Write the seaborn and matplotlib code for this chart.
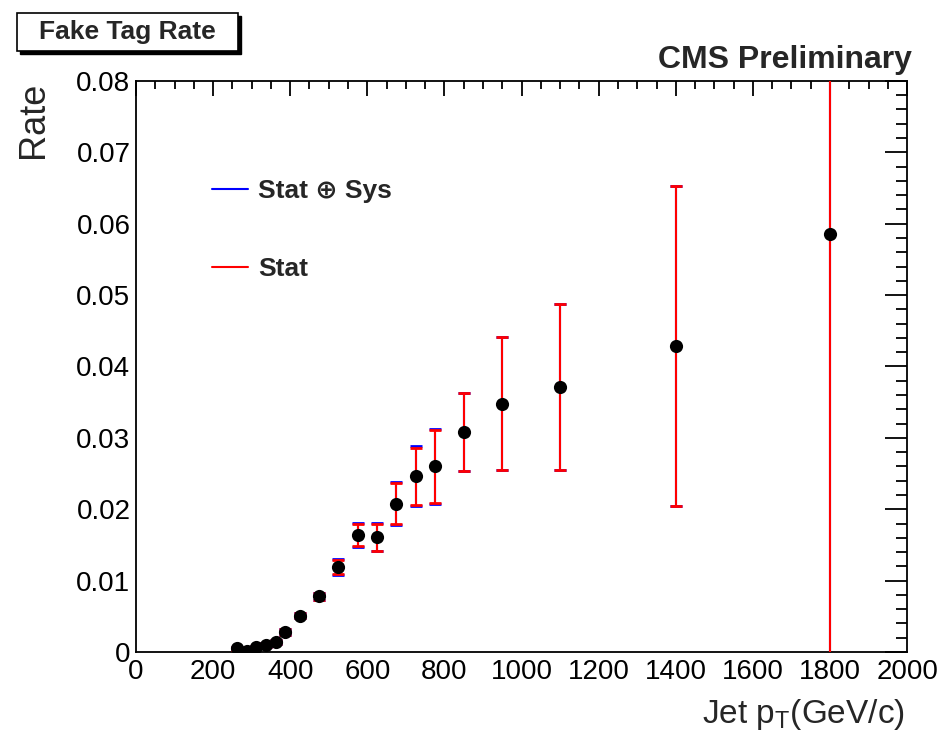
import matplotlib
matplotlib.use("Agg")
import matplotlib.pyplot as plt
import seaborn as sns
import numpy as np
import pandas as pd
from matplotlib.lines import Line2D
from matplotlib.ticker import MultipleLocator, FixedLocator, FixedFormatter
from matplotlib.patches import Rectangle

# ---- data ----
jet_pt = [262.5, 287.5, 312.5, 337.5, 362.5, 387.5, 425, 475, 525, 575, 625,
          675, 725, 775, 850, 950, 1100, 1400, 1800]
fake_rate = [0.0005, 0.0002, 0.0007, 0.0010, 0.0014, 0.0028, 0.0051, 0.0078,
             0.0119, 0.0164, 0.0161, 0.0208, 0.0246, 0.0260, 0.0308, 0.0348,
             0.0371, 0.0429, 0.0585]
stat_err = [0.0002, 0.0002, 0.0002, 0.0003, 0.0003, 0.0004, 0.0004, 0.0005,
            0.0010, 0.0016, 0.0019, 0.0029, 0.0040, 0.0051, 0.0055, 0.0093,
            0.0116, 0.0224, 0.0600]
total_err = [0.0002, 0.0002, 0.0002, 0.0003, 0.0003, 0.0004, 0.0004, 0.0005,
             0.0011, 0.0017, 0.0020, 0.0030, 0.0042, 0.0052, 0.0055, 0.0093,
             0.0116, 0.0224, 0.0600]
x_ticks = [0, 200, 400, 600, 800, 1000, 1200, 1400, 1600, 1800, 2000]
y_ticks = [0, 0.01, 0.02, 0.03, 0.04, 0.05, 0.06, 0.07, 0.08]
y_tick_labels = ["0", "0.01", "0.02", "0.03", "0.04", "0.05", "0.06", "0.07", "0.08"]
legend_labels = ["Stat \u2295 Sys", "Stat"]

df = pd.DataFrame({"pt": jet_pt, "rate": fake_rate,
                   "stat": stat_err, "total": total_err})

sns.set_theme(style="white")
FAM = ["Liberation Sans", "DejaVu Sans"]
plt.rcParams["font.family"] = FAM

fig = plt.figure(figsize=(9.41, 7.46), dpi=100)
ax = fig.add_axes([0.1445, 0.126, 0.8195, 0.7655])

# total (stat+sys) error bars first, stat on top
ax.errorbar(df["pt"], df["rate"], yerr=df["total"], fmt="none",
            ecolor="#0000ff", elinewidth=1.5, capsize=4, capthick=2, zorder=2)
ax.errorbar(df["pt"], df["rate"], yerr=df["stat"], fmt="none",
            ecolor="#ff0000", elinewidth=1.5, capsize=4, capthick=2, zorder=3)
sns.scatterplot(data=df, x="pt", y="rate", ax=ax, color="black", s=90,
                marker="o", edgecolor="black", linewidth=0, zorder=4,
                legend=False)

ax.set_xlim(0, 2000)
ax.set_ylim(0, 0.08)

ax.xaxis.set_major_locator(FixedLocator(x_ticks))
ax.xaxis.set_minor_locator(MultipleLocator(50))
ax.yaxis.set_major_locator(FixedLocator(y_ticks))
ax.yaxis.set_major_formatter(FixedFormatter(y_tick_labels))
ax.yaxis.set_minor_locator(MultipleLocator(0.002))

ax.tick_params(axis="both", which="both", direction="in", top=True, right=True,
               colors="black", width=1.3)
ax.tick_params(axis="x", which="major", length=11, labelsize=20, pad=5)
ax.tick_params(axis="x", which="minor", length=6)
ax.tick_params(axis="y", which="major", length=16, labelsize=20, pad=4)
ax.tick_params(axis="y", which="minor", length=8)
for s in ax.spines.values():
    s.set_linewidth(1.3)
    s.set_color("black")

ax.set_xlabel("")
ax.set_ylabel("")
fig.text(0.962, 0.031, r"Jet p$_\mathregular{T}$(GeV/c)", ha="right",
         va="baseline", fontsize=24)
fig.text(0.036, 0.89, "Rate", rotation=90, ha="center", va="top",
         fontsize=26)

fig.text(0.969, 0.909, "CMS Preliminary", ha="right", va="baseline",
         fontsize=23, fontweight="bold")

# title box with shadow
fig.patches.append(Rectangle((0.0215, 0.927), 0.235, 0.051,
                             transform=fig.transFigure, facecolor="black",
                             edgecolor="black", zorder=1))
fig.patches.append(Rectangle((0.0180, 0.931), 0.235, 0.051,
                             transform=fig.transFigure, facecolor="white",
                             edgecolor="black", linewidth=1.2, zorder=2))
fig.text(0.1355, 0.9565, "Fake Tag Rate", ha="center", va="center",
         fontsize=19, fontweight="bold", zorder=3)

handles = [Line2D([0], [0], color="#0000ff", lw=1.5),
           Line2D([0], [0], color="#ff0000", lw=1.5)]
leg = ax.legend(handles, legend_labels, loc="upper left",
                bbox_to_anchor=(0.075, 0.86), frameon=False,
                handlelength=1.35, handletextpad=0.4, labelspacing=2.05,
                borderpad=0.2,
                prop={"family": FAM, "size": 19, "weight": "bold"})

fig.savefig("out.png", dpi=100, facecolor="white")
